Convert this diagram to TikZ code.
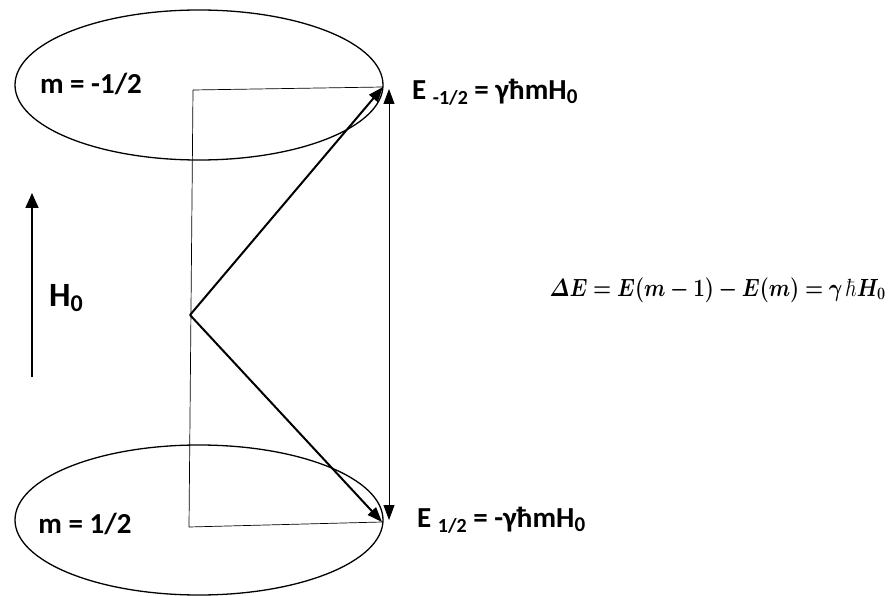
\documentclass[tikz,border=0pt]{standalone}
\usepackage[no-math]{fontspec}
\setmainfont{Carlito}
\usepackage{amsmath, bm}
\usetikzlibrary{positioning, arrows.meta, shapes.geometric}

\begin{document}
\begin{tikzpicture}[
        x=1pt, y=-1pt,
        level/.style={ellipse, draw, line width=1.3pt, minimum width=368pt, minimum height=150pt, inner sep=0pt},
        wire/.style={line width=0.7pt},
        spin/.style={-{Triangle[length=15pt, width=11pt]}, line width=2pt},
        gap/.style={{Triangle[length=15pt, width=11pt]}-{Triangle[length=15pt, width=11pt]}, line width=0.8pt},
        lbl/.style={font=\fontsize{29}{34}\selectfont\bfseries, inner sep=0pt}
    ]
        \useasboundingbox (0,0) rectangle (889,596);

        % Energy levels
        \node[level] (lvl_up) at (199,85) {};
        \node[level] (lvl_dn) at (199,520) {};

        % Cone corners
        \coordinate (top_l) at (193,90);
        \coordinate (top_r) at (383,87);
        \coordinate (bot_l) at (189,527);
        \coordinate (bot_r) at (382,522);
        \coordinate (apex) at (190,315);
        \coordinate (gap_top) at (389,89);
        \coordinate (gap_bot) at (389,520);
        \coordinate (h_base) at (32,377);
        \coordinate (h_tip) at (32,193);

        % Cone
        \draw[wire] (top_l) -- (top_r);
        \draw[wire] (bot_l) -- (bot_r);
        \draw[wire] (top_l) -- (bot_l);
        \draw[spin] (apex) -- (top_r);
        \draw[spin] (apex) -- (bot_r);
        \draw[gap] (gap_bot) -- (gap_top);

        % Field
        \draw[-{Triangle[length=15pt, width=13pt]}, line width=1.8pt] (h_base) -- (h_tip);
        \node[font=\fontsize{34}{38}\selectfont\bfseries, inner sep=0pt] (h_lbl) at (66,298) {H\raisebox{-0.3ex}{\fontsize{24}{24}\selectfont 0}};

        % Labels
        \node[lbl] (m_up) at (91,84) {m = -1/2};
        \node[lbl] (m_dn) at (85,524) {m = 1/2};
        \node[lbl, right=23pt of gap_top, yshift=-3pt] (e_up) {E \raisebox{-0.35ex}{\fontsize{20}{20}\selectfont -1/2} = γħmH\raisebox{-0.3ex}{\fontsize{21}{21}\selectfont 0}};
        \node[lbl, right=28pt of gap_bot] (e_dn) {E \raisebox{-0.35ex}{\fontsize{20}{20}\selectfont 1/2} = -γħmH\raisebox{-0.3ex}{\fontsize{21}{21}\selectfont 0}};
        \node[anchor=east, font=\fontsize{22}{26}\selectfont, inner sep=0pt] (delta) at (886,290)
            {\scalebox{1}[1.2]{$\bm{\varDelta E = E(m-1) - E(m) = \gamma}\,\hbar\bm{H_0}$}};
    \end{tikzpicture}
\end{document}
